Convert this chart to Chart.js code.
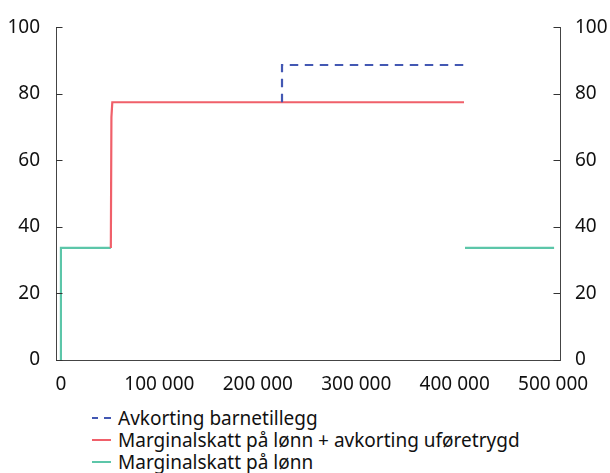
<!DOCTYPE html>
<html><head><meta charset="utf-8">
<script src="https://cdn.jsdelivr.net/npm/chart.js@4/dist/chart.umd.min.js"></script>
<style>
html,body{margin:0;padding:0;background:#fff;overflow:hidden;}
#wrap{position:relative;width:610px;height:473px;overflow:hidden;}
#c{position:absolute;left:0;top:0;}
#legend{position:absolute;left:92px;top:407px;font-family:"Noto Sans",sans-serif;font-size:19px;color:#111;line-height:22px;}
.item{display:flex;align-items:center;white-space:nowrap;height:22px;}
.sw{width:19px;height:2px;margin-right:7px;flex:none;}
</style></head>
<body><div id="wrap"><canvas id="c" width="610" height="400"></canvas>
<div id="legend"></div></div>
<script>
const seriesNames = ["Avkorting barnetillegg","Marginalskatt på lønn + avkorting uføretrygd","Marginalskatt på lønn"];
const seriesColors = ["#4358b3","#f0606a","#5cc6a9"];
const blueX = [224600, 224600, 409500];
const blueY = [77.5, 88.7, 88.7];
const redX = [50700, 51300, 52200, 409500];
const redY = [33.7, 73, 77.5, 77.5];
const greenX = [0, 0, 50700, 250000, 410500, 501000];
const greenY = [0, 33.7, 33.7, null, 33.7, 33.7];
const xTicks = [0,100000,200000,300000,400000,500000];
const yTicks = [0,20,40,60,80,100];

const pts = (xs,ys)=>xs.map((x,i)=>({x:x,y:ys[i]}));
const FONT = {family:"'Noto Sans', sans-serif", size:19};

const inwardTicks = {
  id:'inwardTicks',
  afterDraw(chart){
    const ctx = chart.ctx;
    ctx.save();
    ctx.strokeStyle = '#333'; ctx.lineWidth = 1;
    const yl = chart.scales.y, yr = chart.scales.y2;
    yTicks.forEach(v=>{
      const py = Math.round(yl.getPixelForValue(v))+0.5;
      ctx.beginPath(); ctx.moveTo(yl.right, py); ctx.lineTo(yl.right+6.5, py); ctx.stroke();
      const py2 = Math.round(yr.getPixelForValue(v))+0.5;
      ctx.beginPath(); ctx.moveTo(yr.left, py2); ctx.lineTo(yr.left-6.5, py2); ctx.stroke();
    });
    ctx.restore();
  }
};

new Chart(document.getElementById('c'), {
  type:'line',
  data:{datasets:[
    {label:seriesNames[0], data:pts(blueX,blueY), borderColor:seriesColors[0], borderWidth:2.2, borderDash:[8.5,6.5], pointRadius:0, fill:false, tension:0},
    {label:seriesNames[1], data:pts(redX,redY), borderColor:seriesColors[1], borderWidth:2.2, pointRadius:0, fill:false, tension:0},
    {label:seriesNames[2], data:pts(greenX,greenY), borderColor:seriesColors[2], borderWidth:2.2, pointRadius:0, fill:false, tension:0, spanGaps:false}
  ]},
  options:{
    responsive:false, animation:false,
    layout:{padding:{top:14.6,left:0,right:0,bottom:0}},
    plugins:{legend:{display:false}, tooltip:{enabled:false}},
    scales:{
      x:{type:'linear', min:-5000, max:507000,
        afterBuildTicks:(s)=>{s.ticks = xTicks.map(v=>({value:v}));},
        afterFit:(s)=>{s.height = 40;},
        ticks:{font:FONT, color:'#111', padding:13, maxRotation:0, autoSkip:false,
          callback:(v)=>v===0?'0':String(v).replace(/\B(?=(\d{3})+(?!\d))/g,' ')},
        grid:{display:false, drawTicks:false, tickLength:0},
        border:{display:true, color:'#444', width:1}
      },
      y:{type:'linear', position:'left', min:0, max:100,
        afterBuildTicks:(s)=>{s.ticks = yTicks.map(v=>({value:v}));},
        afterFit:(s)=>{s.width = 56;},
        ticks:{font:FONT, color:'#111', padding:16},
        grid:{display:false, drawTicks:false, tickLength:0},
        border:{display:true, color:'#444', width:1}
      },
      y2:{type:'linear', position:'right', min:0, max:100,
        afterBuildTicks:(s)=>{s.ticks = yTicks.map(v=>({value:v}));},
        afterFit:(s)=>{s.width = 50;},
        ticks:{font:FONT, color:'#111', padding:15},
        grid:{display:false, drawTicks:false, tickLength:0},
        border:{display:true, color:'#444', width:1}
      }
    }
  },
  plugins:[inwardTicks]
});

const lg = document.getElementById('legend');
seriesNames.forEach((n,i)=>{
  const d = document.createElement('div'); d.className='item';
  const s = document.createElement('span'); s.className='sw';
  if(i===0){ s.style.background = 'repeating-linear-gradient(to right,'+seriesColors[i]+' 0 6.5px, transparent 6.5px 12.5px)'; }
  else { s.style.background = seriesColors[i]; }
  const t = document.createElement('span'); t.textContent = n;
  d.appendChild(s); d.appendChild(t); lg.appendChild(d);
});
</script></body></html>
